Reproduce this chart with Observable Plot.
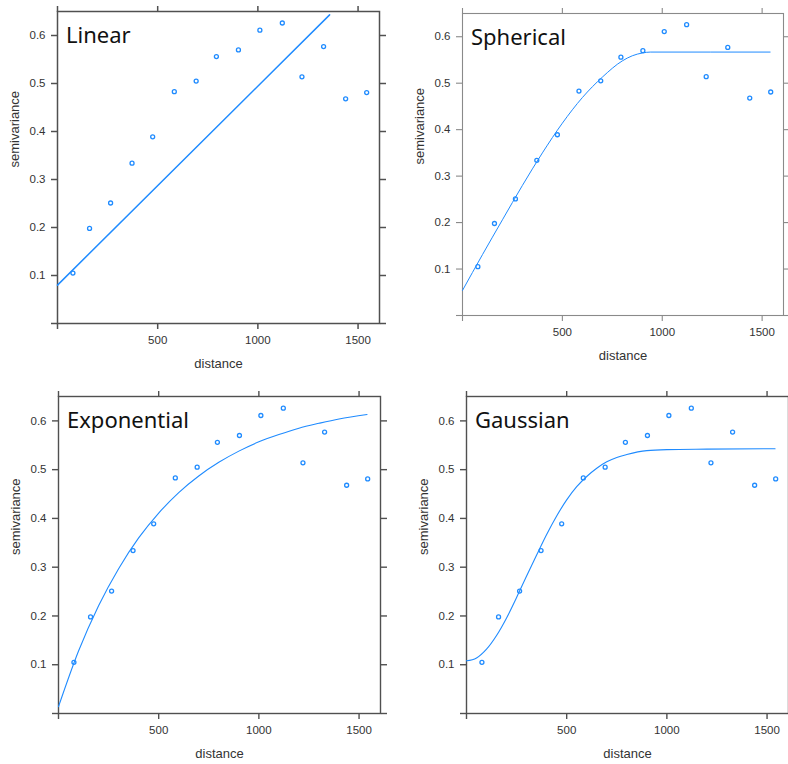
<!DOCTYPE html>
<html><head><meta charset="utf-8">
<script src="https://cdn.jsdelivr.net/npm/d3@7"></script>
<script src="https://cdn.jsdelivr.net/npm/@observablehq/plot@0.6"></script>
<style>
html,body{margin:0;padding:0;background:#fff;}
#chart{position:relative;width:788px;height:764px;overflow:hidden;background:#fff;}
#chart svg{position:absolute;}
</style></head><body><div id="chart"></div>
<script>
// Empirical variogram (shared by all panels)
const distance = [77, 160, 265, 372, 475, 583, 692, 793, 903, 1010, 1122, 1220, 1328, 1438, 1543];
const gamma = [0.105, 0.198, 0.251, 0.334, 0.389, 0.483, 0.505, 0.556, 0.570, 0.611, 0.626, 0.514, 0.577, 0.468, 0.481];

// Fitted model curves
const linearDist = [0, 1358];
const linearGamma = [0.080, 0.643];
const sphDist = [0, 100, 200, 300, 400, 500, 600, 700, 800, 850, 900, 940, 1540];
const sphGamma = [0.054, 0.131, 0.206, 0.280, 0.350, 0.414, 0.469, 0.513, 0.548, 0.559, 0.565, 0.567, 0.567];
const expDist = [0, 100, 200, 300, 400, 500, 600, 700, 800, 900, 1000, 1100, 1200, 1300, 1400, 1540];
const expGamma = [0.014, 0.128, 0.221, 0.297, 0.360, 0.411, 0.453, 0.487, 0.515, 0.538, 0.557, 0.572, 0.585, 0.595, 0.604, 0.613];
const gauDist = [0, 50, 100, 150, 200, 250, 300, 350, 400, 450, 500, 550, 600, 650, 700, 750, 800, 900, 1000, 1200, 1540];
const gauGamma = [0.108, 0.114, 0.132, 0.160, 0.196, 0.238, 0.282, 0.325, 0.367, 0.405, 0.438, 0.465, 0.486, 0.503, 0.516, 0.525, 0.531, 0.539, 0.541, 0.542, 0.543];

const xTicks = [0, 500, 1000, 1500];
const yTicks = [0, 0.1, 0.2, 0.3, 0.4, 0.5, 0.6];
const titles = ["Linear", "Spherical", "Exponential", "Gaussian"];
const xLabel = "distance";
const yLabel = "semivariance";

const blue = "#1f8bff";
const panels = [
  {title: titles[0], lx: linearDist, ly: linearGamma, left: 0, top: 0, ml: 57, mr: 15, mt: 11, mb: 59, fc: "#505050", sw: 1.5, lw: 1.5},
  {title: titles[1], lx: sphDist, ly: sphGamma, left: 394, top: 0, ml: 68, mr: 5, mt: 13, mb: 67, fc: "#8a8a8a", sw: 1.1, lw: 1},
  {title: titles[2], lx: expDist, ly: expGamma, left: 0, top: 382, ml: 58, mr: 14, mt: 14, mb: 51, fc: "#505050", sw: 1.4, lw: 1.1},
  {title: titles[3], lx: gauDist, ly: gauGamma, left: 394, top: 382, ml: 72, mr: 0, mt: 14, mb: 51, fc: "#505050", sw: 1.4, lw: 1.1}
];

const chart = document.getElementById("chart");
for (const p of panels) {
  const pts = distance.map((d, i) => ({d, g: gamma[i]}));
  const fit = p.lx.map((d, i) => ({d, g: p.ly[i]}));
  const svg = Plot.plot({
    width: 394, height: 382,
    marginLeft: p.ml, marginRight: p.mr, marginTop: p.mt, marginBottom: p.mb,
    x: {domain: [0, 1607]},
    y: {domain: [0, 0.65]},
    style: {fontFamily: "'Liberation Sans', Arial, sans-serif", fontSize: "11.5px", color: "#333", background: "transparent", overflow: "visible"},
    marks: [
      Plot.axisX({ticks: xTicks, anchor: "bottom", tickSize: 6, tickPadding: 6, tickFormat: d => d === 0 ? "" : String(d), label: null, stroke: p.fc, strokeWidth: p.sw, fill: "#333"}),
      Plot.axisX({ticks: xTicks, anchor: "top", tickSize: 6, tickFormat: () => "", label: null, stroke: p.fc, strokeWidth: p.sw}),
      Plot.axisY({ticks: yTicks, anchor: "left", tickSize: 6, tickPadding: 6, tickFormat: d => d === 0 ? "" : d.toFixed(1), label: null, stroke: p.fc, strokeWidth: p.sw, fill: "#333"}),
      Plot.axisY({ticks: yTicks, anchor: "right", tickSize: 6, tickFormat: () => "", label: null, stroke: p.fc, strokeWidth: p.sw}),
      Plot.frame({stroke: p.fc, strokeWidth: p.sw}),
      Plot.line(fit, {x: "d", y: "g", stroke: blue, strokeWidth: p.lw, curve: "monotone-x"}),
      Plot.dot(pts, {x: "d", y: "g", r: 2, stroke: blue, strokeWidth: 1.3, fill: "none"}),
      Plot.text([p.title], {text: d => d, frameAnchor: "top-left", dx: 8.5, dy: 31, textAnchor: "start", lineAnchor: "bottom", fontSize: 22, fontFamily: "'Noto Sans', 'Open Sans', sans-serif", fill: "#111"}),
      Plot.text([xLabel], {text: d => d, frameAnchor: "bottom", dy: 44, fontSize: 13, fill: "#333"}),
      Plot.text([yLabel], {text: d => d, frameAnchor: "left", dx: -43, rotate: -90, fontSize: 13, fill: "#333"})
    ]
  });
  svg.style.left = p.left + "px";
  svg.style.top = p.top + "px";
  chart.appendChild(svg);
}
</script></body></html>
